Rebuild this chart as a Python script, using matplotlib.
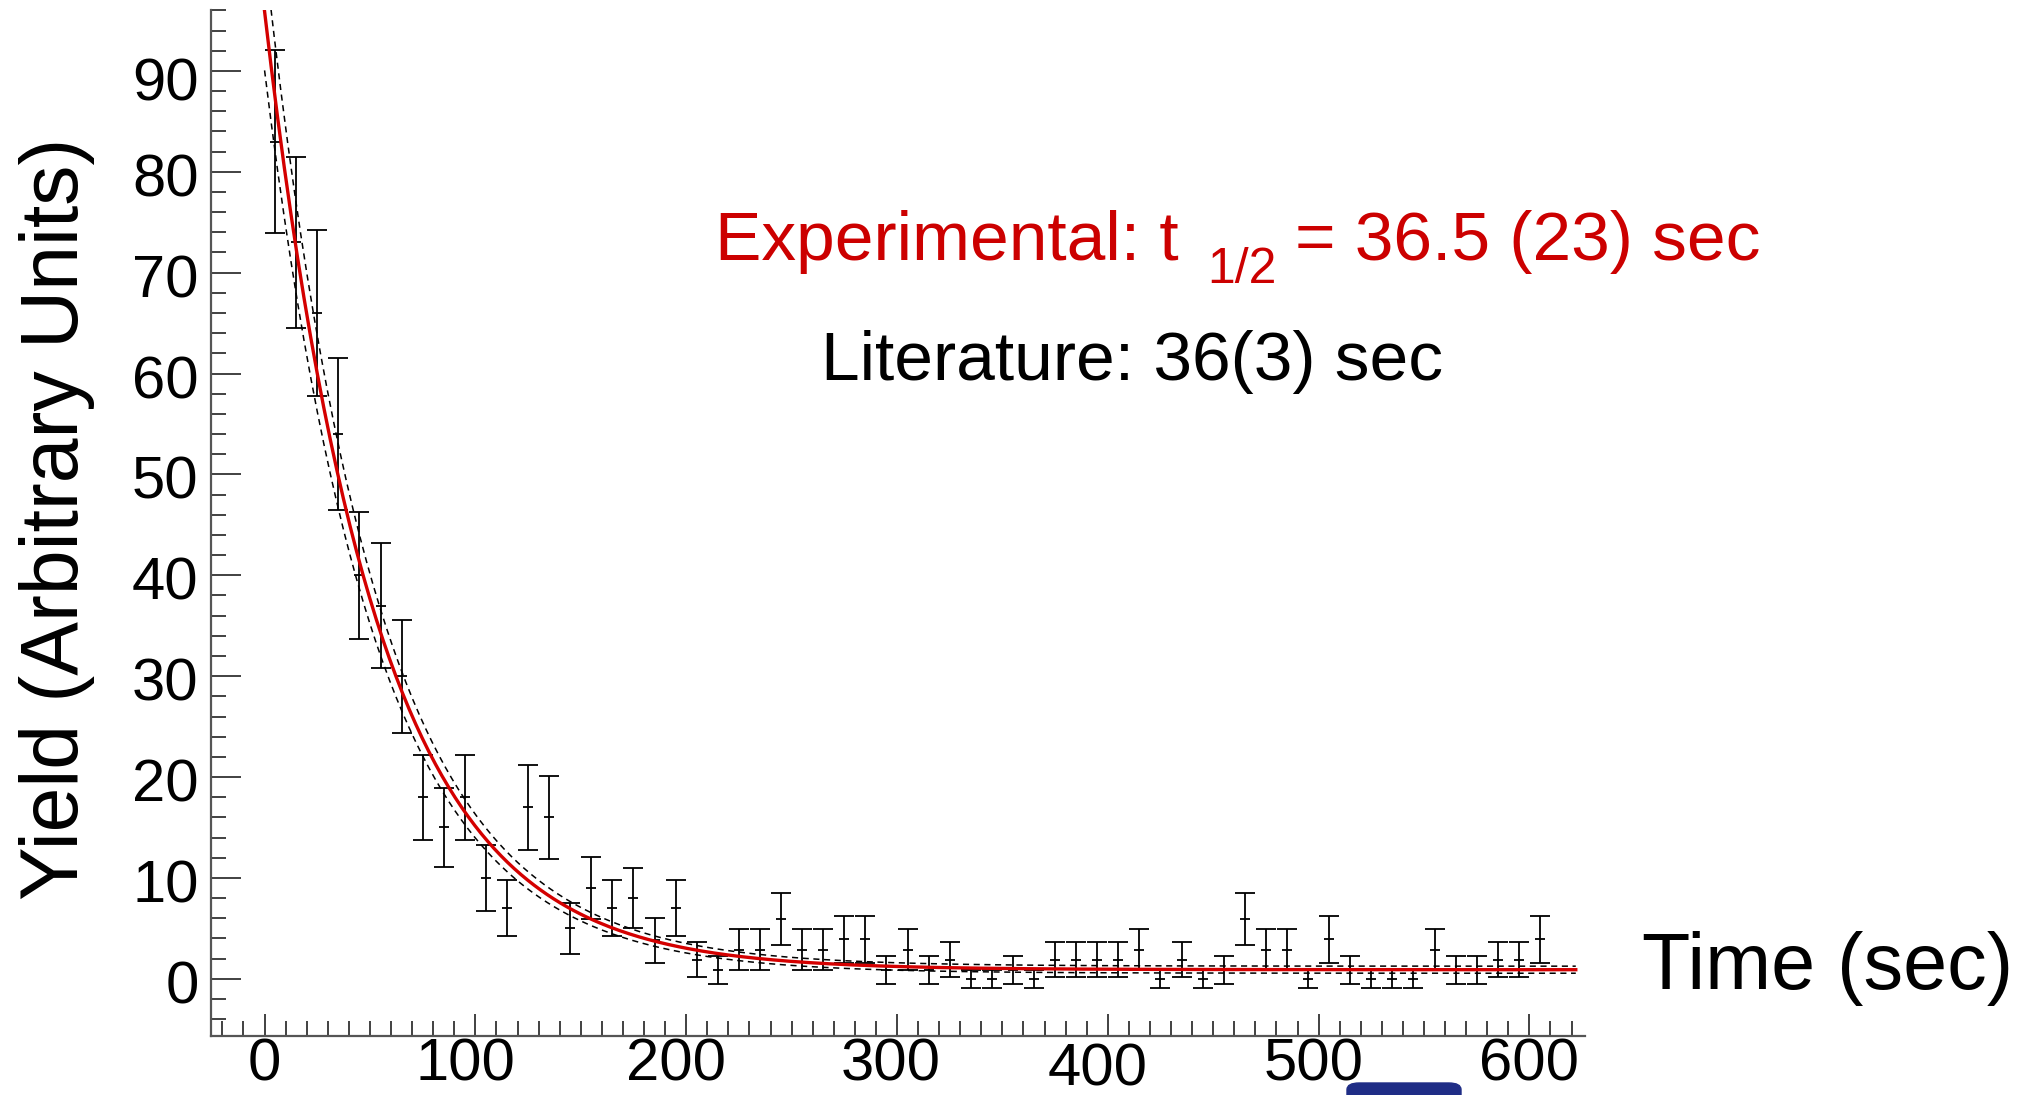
import numpy as np
import matplotlib
matplotlib.use("Agg")
import matplotlib.pyplot as plt
import matplotlib.transforms as mtransforms
from matplotlib.patches import FancyBboxPatch
from matplotlib.ticker import MultipleLocator

plt.rcParams['font.family'] = ['Liberation Sans', 'DejaVu Sans']

# decay data: bin centres (sec), yield and error per bin
times = [5, 15, 25, 35, 45, 55, 65, 75, 85, 95,
         105, 115, 125, 135, 145, 155, 165, 175, 185, 195,
         205, 215, 225, 235, 245, 255, 265, 275, 285, 295,
         305, 315, 325, 335, 345, 355, 365, 375, 385, 395,
         405, 415, 425, 435, 445, 455, 465, 475, 485, 495,
         505, 515, 525, 535, 545, 555, 565, 575, 585, 595,
         605]
yields = [83, 73, 66, 54, 40, 37, 30, 18, 15, 18,
          10, 7, 17, 16, 5, 9, 7, 8, 3.8, 7,
          1.9, 0.9, 2.9, 2.9, 5.9, 2.9, 2.9, 3.9, 3.9, 0.9,
          2.9, 0.9, 1.9, 0, 0, 0.9, 0, 1.9, 1.9, 1.9,
          1.9, 2.9, 0, 1.9, 0, 0.9, 5.9, 2.9, 2.9, 0,
          3.9, 0.9, 0, 0, 0, 2.9, 0.9, 0.9, 1.9, 1.9,
          3.9]
errors = [9.1, 8.5, 8.2, 7.5, 6.3, 6.2, 5.6, 4.2, 3.9, 4.2,
          3.3, 2.8, 4.2, 4.1, 2.5, 3.1, 2.8, 3.0, 2.2, 2.8,
          1.7, 1.4, 2.0, 2.0, 2.6, 2.0, 2.0, 2.3, 2.3, 1.4,
          2.0, 1.4, 1.7, 0.9, 0.9, 1.4, 0.9, 1.7, 1.7, 1.7,
          1.7, 2.0, 0.9, 1.7, 0.9, 1.4, 2.6, 2.0, 2.0, 0.9,
          2.3, 1.4, 0.9, 0.9, 0.9, 2.0, 1.4, 1.4, 1.7, 1.7,
          2.3]

# fit result: A*exp(-ln2 t / t_half) + C, with parameter errors for the band
half_life = 36.5
amp, amp_err = 95.0, 5.5
const, const_err = 0.9, 0.35

fig = plt.figure(figsize=(20.35, 10.95), dpi=100)
ax = fig.add_axes([0.1037, 0.0539, 0.6752, 0.9366])

ax.errorbar(times, yields, yerr=errors, fmt='_', color='black', ecolor='black',
            elinewidth=1.3, capsize=7, capthick=1.3, markersize=7, mew=1.3, zorder=2)

tt = np.linspace(0, 622, 400)
decay = np.exp(-np.log(2) * tt / half_life)
ax.plot(tt, (amp + amp_err) * decay + const + const_err, color='black', lw=1.1,
        ls=(0, (4, 3)), zorder=3)
ax.plot(tt, (amp - amp_err) * decay + const - const_err, color='black', lw=1.1,
        ls=(0, (4, 3)), zorder=3)
ax.plot(tt, amp * decay + const, color='#d40000', lw=2.4, zorder=4)

ax.set_xlim(-25.4, 626.4)
ax.set_ylim(-5.67, 96.0)

# ROOT-like axes: only left/bottom, ticks pointing inwards
for side in ['top', 'right']:
    ax.spines[side].set_visible(False)
for side in ['left', 'bottom']:
    ax.spines[side].set_color('#555555')
    ax.spines[side].set_linewidth(1.6)

ax.xaxis.set_major_locator(MultipleLocator(100))
ax.xaxis.set_minor_locator(MultipleLocator(10))
ax.yaxis.set_major_locator(MultipleLocator(10))
ax.yaxis.set_minor_locator(MultipleLocator(2))

ax.tick_params(axis='both', which='both', direction='in', colors='#333333',
               labelcolor='black', labelsize=43)
ax.tick_params(axis='y', which='major', length=21.5, width=1.3, pad=9)
ax.tick_params(axis='y', which='minor', length=11, width=1.3)
ax.tick_params(axis='x', which='major', length=15.6, width=1.3, pad=1)
ax.tick_params(axis='x', which='minor', length=10.8, width=1.3)

# the hand-placed tick labels sit a little off their ticks
fig.canvas.draw()
x_nudge = {'100': (-10, 0), '200': (-10, 0), '300': (-6, 0),
           '400': (-10, -5), '500': (-5, 0)}
y_nudge = {'90': (0, -8)}


def shift(lab, dx, dy):
    lab.set_transform(lab.get_transform() + mtransforms.ScaledTranslation(
        dx / 100, dy / 100, fig.dpi_scale_trans))


for lab in ax.get_xticklabels():
    dx, dy = x_nudge.get(lab.get_text(), (0, 0))
    if dx or dy:
        shift(lab, dx, dy)
for lab in ax.get_yticklabels():
    dx, dy = y_nudge.get(lab.get_text(), (0, -3))
    shift(lab, dx, dy)

fig.text(0.028, 0.526, 'Yield (Arbitrary Units)', rotation=90, fontsize=58,
         ha='center', va='center')
fig.text(0.8069, 0.0968, 'Time (sec)', fontsize=57, va='baseline')

red = '#cc0000'
fig.text(0.3514, 0.7626, 'Experimental: t', fontsize=50, color=red, va='baseline')
fig.text(0.5931, 0.7416, '1/2', fontsize=36, color=red, va='baseline')
fig.text(0.6364, 0.7626, '= 36.5 (23) sec', fontsize=50, color=red, va='baseline')
fig.text(0.4034, 0.6530, 'Literature: 36(3) sec', fontsize=50, color='black',
         va='baseline')

# slide shape peeking in at the bottom edge
fig.patches.append(FancyBboxPatch((1347 / 2035, -20 / 1095), 114 / 2035, 32 / 1095,
                                  boxstyle='round,pad=0,rounding_size=0.006',
                                  transform=fig.transFigure, color='#1f2d86',
                                  zorder=5))

fig.savefig('out.png', dpi=100)
